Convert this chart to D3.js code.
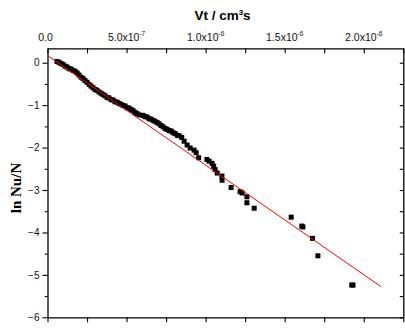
<!DOCTYPE html>
<html>
<head>
<meta charset="utf-8">
<script src="https://cdn.jsdelivr.net/npm/d3@7"></script>
<style>
  html, body { margin: 0; padding: 0; background: #fff; }
  svg { display: block; }
</style>
</head>
<body>
<svg id="chart" width="405" height="328"></svg>
<script>
// ---- data (Vt in cm^3 s, ln Nu/N) ----
const vt = [
  0.60e-7,0.73e-7,0.85e-7,0.98e-7,1.11e-7,1.23e-7,1.36e-7,1.49e-7,1.61e-7,1.74e-7,
  1.87e-7,1.99e-7,2.12e-7,2.25e-7,2.37e-7,2.50e-7,2.63e-7,2.75e-7,2.88e-7,3.01e-7,
  3.13e-7,3.26e-7,3.39e-7,3.51e-7,3.64e-7,3.77e-7,3.89e-7,4.02e-7,4.15e-7,4.27e-7,
  4.40e-7,4.53e-7,4.65e-7,4.78e-7,4.91e-7,5.03e-7,5.16e-7,5.28e-7,5.41e-7,5.54e-7,
  5.66e-7,5.79e-7,6.04e-7,6.17e-7,6.30e-7,6.42e-7,6.55e-7,6.68e-7,6.80e-7,6.93e-7,
  7.06e-7,7.18e-7,7.31e-7,7.44e-7,7.56e-7,7.69e-7,7.82e-7,7.94e-7,8.07e-7,8.20e-7,
  8.32e-7,8.49e-7,8.64e-7,8.83e-7,9.02e-7,9.27e-7,9.40e-7,9.56e-7,10.08e-7,10.22e-7,
  10.41e-7,10.51e-7,10.60e-7,10.73e-7,11.03e-7,11.04e-7,11.61e-7,12.18e-7,12.31e-7,12.61e-7,
  12.61e-7,13.07e-7,15.41e-7,16.08e-7,16.15e-7,16.76e-7,17.10e-7,19.24e-7,19.32e-7
];
const lnNuN = [
  0.03,0.01,-0.02,-0.04,-0.08,-0.10,-0.14,-0.15,-0.18,-0.20,
  -0.24,-0.29,-0.34,-0.37,-0.42,-0.46,-0.51,-0.55,-0.59,-0.63,
  -0.65,-0.69,-0.72,-0.75,-0.78,-0.82,-0.83,-0.87,-0.88,-0.92,
  -0.93,-0.96,-0.98,-1.01,-1.02,-1.06,-1.07,-1.10,-1.13,-1.17,
  -1.20,-1.23,-1.24,-1.27,-1.28,-1.32,-1.33,-1.36,-1.38,-1.41,
  -1.44,-1.48,-1.51,-1.55,-1.57,-1.60,-1.61,-1.65,-1.67,-1.71,
  -1.72,-1.76,-1.85,-1.94,-2.01,-2.06,-2.12,-2.24,-2.28,-2.32,
  -2.37,-2.44,-2.52,-2.60,-2.67,-2.77,-2.94,-3.04,-3.07,-3.16,
  -3.30,-3.43,-3.64,-3.85,-3.87,-4.14,-4.55,-5.24,-5.24
];
// linear fit line end points
const fitX = [0, 2.11e-6];
const fitY = [0.17, -5.28];
// axis ticks
const xMinorTicks = [0,2.5e-7,5e-7,7.5e-7,1e-6,1.25e-6,1.5e-6,1.75e-6,2e-6,2.25e-6];
const xLabelTicks = [0, 5e-7, 1e-6, 1.5e-6, 2e-6];
const xLabelMant = ["0.0", "5.0x10", "1.0x10", "1.5x10", "2.0x10"];
const xLabelExp = ["", "-7", "-6", "-6", "-6"];
const yMajorTicks = [-6,-5,-4,-3,-2,-1,0];
const yMinorTicks = [-5.5,-4.5,-3.5,-2.5,-1.5,-0.5];
const xTitle = "Vt / cm";
const yTitle = "ln Nu/N";

// ---- layout ----
const L = 47.5, R = 403.3, T = 48.3, B = 317.3;
const x = d3.scaleLinear().domain([0, 2.25e-6]).range([L, R]);
const y = d3.scaleLinear().domain([-6, 0.34]).range([B, T]);

const svg = d3.select("#chart");

function styleAxis(g) {
  g.selectAll("path.domain").attr("stroke", "#000").attr("stroke-width", 1.3);
  g.selectAll(".tick line").attr("stroke", "#000").attr("stroke-width", 1.1);
}

// bottom axis (outward ticks, no labels)
svg.append("g").attr("transform", `translate(0,${B})`)
  .call(d3.axisBottom(x).tickValues(xMinorTicks).tickSize(5).tickSizeOuter(0).tickFormat(""))
  .call(styleAxis);
// top axis (inward ticks)
svg.append("g").attr("transform", `translate(0,${T})`)
  .call(d3.axisTop(x).tickValues(xMinorTicks).tickSize(-5).tickSizeOuter(0).tickFormat(""))
  .call(styleAxis);
// left axis major
svg.append("g").attr("transform", `translate(${L},0)`)
  .call(d3.axisLeft(y).tickValues(yMajorTicks).tickSize(5).tickSizeOuter(0).tickPadding(3).tickFormat(d3.format("d")))
  .call(styleAxis)
  .call(g => g.selectAll("text").attr("font-family", "Liberation Sans, Arial, sans-serif").attr("font-size", 10).attr("fill", "#111"));
// left axis minor
svg.append("g").attr("transform", `translate(${L},0)`)
  .call(d3.axisLeft(y).tickValues(yMinorTicks).tickSize(2.7).tickSizeOuter(0).tickFormat(""))
  .call(styleAxis)
  .call(g => g.select("path.domain").remove());
// right axis (inward)
svg.append("g").attr("transform", `translate(${R},0)`)
  .call(d3.axisRight(y).tickValues(yMajorTicks.concat(yMinorTicks)).tickSize(-3.5).tickSizeOuter(0).tickFormat(""))
  .call(styleAxis);

// top labels
const lab = svg.append("g")
  .attr("font-family", "Liberation Sans, Arial, sans-serif")
  .attr("fill", "#111");
xLabelTicks.forEach((v, i) => {
  const t = lab.append("text")
    .attr("x", x(v) + (i === 0 ? -2 : 0))
    .attr("y", 40.5)
    .attr("text-anchor", "middle")
    .attr("font-size", 10.5);
  t.append("tspan").text(xLabelMant[i]);
  if (xLabelExp[i]) {
    t.append("tspan").attr("font-size", 6.5).attr("dy", -4.5).text(xLabelExp[i]);
  }
});

// x title
const xt = svg.append("text")
  .attr("x", 222.5).attr("y", 19.5)
  .attr("text-anchor", "middle")
  .attr("font-family", "Liberation Sans, Arial, sans-serif")
  .attr("font-weight", "bold")
  .attr("font-size", 13.5)
  .attr("fill", "#000");
xt.append("tspan").text(xTitle);
xt.append("tspan").attr("font-size", 8).attr("dy", -5).text("3");
xt.append("tspan").attr("dy", 5).text("s");

// y title
svg.append("text")
  .attr("transform", "translate(20.5,188) rotate(-90)")
  .attr("text-anchor", "middle")
  .attr("font-family", "Liberation Serif, Times New Roman, serif")
  .attr("font-weight", "bold")
  .attr("font-size", 15)
  .attr("fill", "#000")
  .text(yTitle);

// data points
const pts = vt.map((v, i) => [v, lnNuN[i]]);
const s = 5;
svg.append("g").selectAll("rect").data(pts).join("rect")
  .attr("x", d => x(d[0]) - s / 2)
  .attr("y", d => y(d[1]) - s / 2)
  .attr("width", s).attr("height", s)
  .attr("fill", "#000");

// fit line
svg.append("path")
  .datum(fitX.map((v, i) => [v, fitY[i]]))
  .attr("d", d3.line().x(d => x(d[0])).y(d => y(d[1])))
  .attr("fill", "none")
  .attr("stroke", "#ff0000")
  .attr("stroke-width", 1);
</script>
</body>
</html>
